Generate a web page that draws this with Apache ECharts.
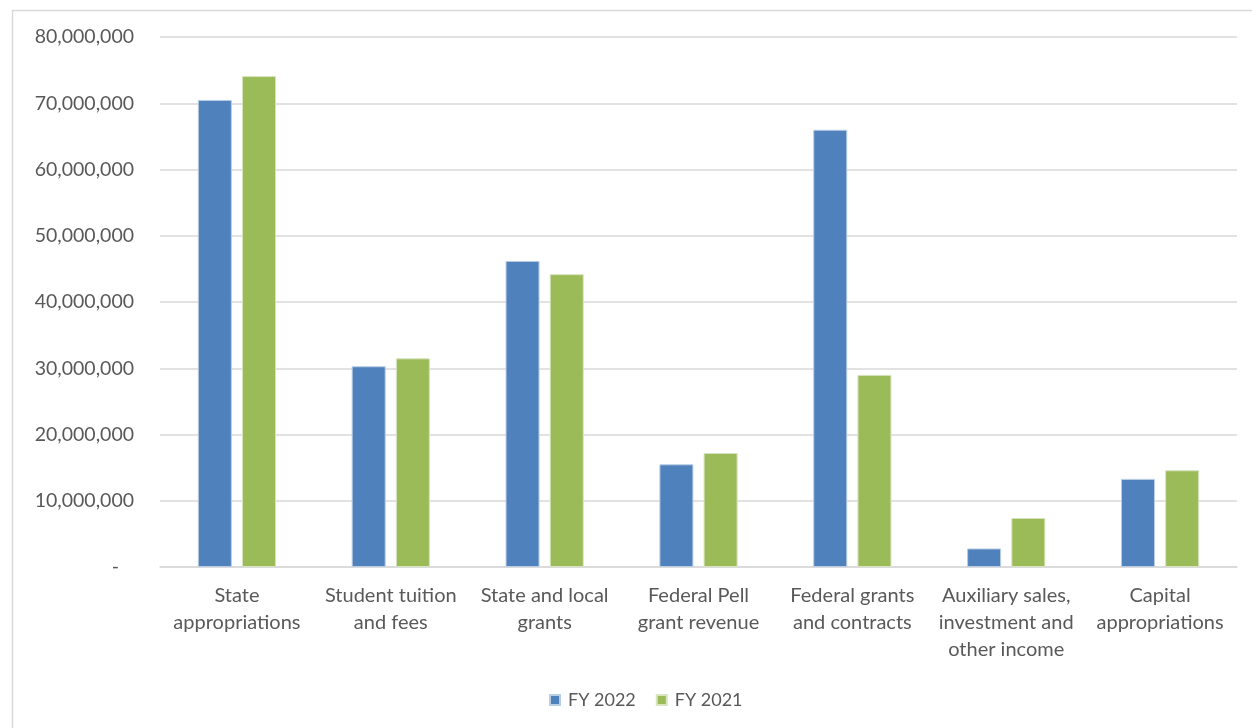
<!DOCTYPE html>
<html><head><meta charset="utf-8">
<script src="https://cdn.jsdelivr.net/npm/echarts@6/dist/echarts.min.js"></script>
<style>html,body{margin:0;padding:0;background:#fff}#c{width:1252px;height:728px}</style>
</head><body><div id="c"></div>
<script>
var categories = ['State\nappropriations','Student tuition\nand fees','State and local\ngrants','Federal Pell\ngrant revenue','Federal grants\nand contracts','Auxiliary sales,\ninvestment and\nother income','Capital\nappropriations'];
var fy2022 = [70500000, 30300000, 46200000, 15500000, 66000000, 2800000, 13300000];
var fy2021 = [74100000, 31500000, 44200000, 17200000, 29000000, 7400000, 14600000];
var seriesNames = ['FY 2022','FY 2021'];
var FONT = 'Lato, "Open Sans", sans-serif';
var chart = echarts.init(document.getElementById('c'));
chart.setOption({
  animation:false,
  graphic:[{type:'rect',shape:{x:12.5,y:10.5,width:1300,height:800},style:{fill:'none',stroke:'#D9D9D9',lineWidth:1.5},silent:true}],
  grid:{left:160,right:15,top:37,bottom:161},
  legend:{bottom:14,left:544,itemWidth:10,itemHeight:10,itemGap:20,icon:'rect',
    textStyle:{color:'#595959',fontSize:18,fontFamily:FONT,padding:[0,0,0,3]},data:seriesNames},
  xAxis:{type:'category',data:categories,axisTick:{show:false},
    axisLine:{lineStyle:{color:'#D9D9D9',width:1.5}},
    axisLabel:{color:'#595959',fontSize:20,fontFamily:FONT,lineHeight:27,margin:15,interval:0}},
  yAxis:{type:'value',min:0,max:80000000,interval:10000000,
    axisLine:{show:false},axisTick:{show:false},
    splitLine:{lineStyle:{color:'#D9D9D9',width:1.5}},
    axisLabel:{color:'#595959',fontSize:19.5,fontFamily:FONT,margin:26,
      formatter:function(v){return v===0?'-   ':v.toLocaleString('en-US');}}},
  series:[
    {name:seriesNames[0],type:'bar',data:fy2022,barWidth:34,barGap:'30%',itemStyle:{color:'#4F81BD',borderColor:'#B9CDE5',borderWidth:1}},
    {name:seriesNames[1],type:'bar',data:fy2021,barWidth:34,itemStyle:{color:'#9BBB59',borderColor:'#D7E4BD',borderWidth:1}}
  ]
});
</script></body></html>
